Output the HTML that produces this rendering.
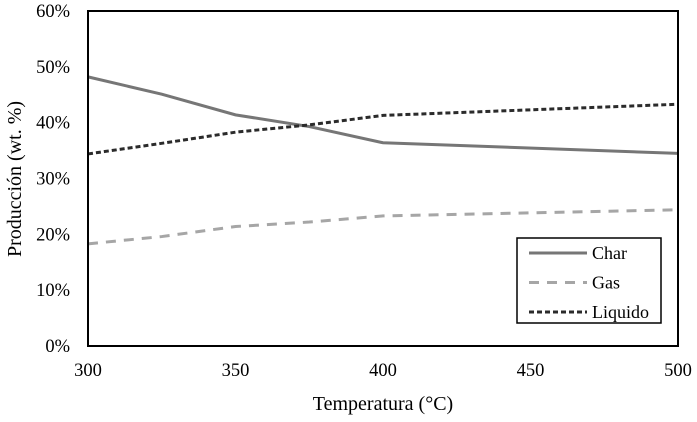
<!DOCTYPE html>
<html><head><meta charset="utf-8"><style>
body{margin:0;background:#fff;}
svg text{font-family:"Liberation Serif",serif;fill:#000;}
</style></head><body>
<svg id="chart" width="697" height="417" xmlns="http://www.w3.org/2000/svg"></svg>
<script>
const temps=[300,325,350,375,400,500];
const charVals=[48.2,45.1,41.4,39.3,36.4,34.5];
const gasVals=[18.3,19.6,21.4,22.2,23.3,24.4];
const liqVals=[34.4,36.3,38.3,39.6,41.3,43.3];
const xTicks=[300,350,400,450,500];
const yTicks=[0,10,20,30,40,50,60];
const L=88,R=678,T=11,B=346;
const xs=v=>L+(v-300)/200*(R-L);
const ys=v=>B-v/60*(B-T);
const svg=document.getElementById('chart');
const NS='http://www.w3.org/2000/svg';
function mk(tag,attrs,parent){const e=document.createElementNS(NS,tag);for(const k in attrs)e.setAttribute(k,attrs[k]);(parent||svg).appendChild(e);return e;}
yTicks.forEach(t=>{const e=mk('text',{x:70,y:ys(t)+6,'text-anchor':'end','font-size':18.5});e.textContent=t+'%';

});
xTicks.forEach(t=>{const e=mk('text',{x:xs(t),y:376,'text-anchor':'middle','font-size':18.5});e.textContent=t;

});
const series=[{v:charVals,c:'#767676',d:'',w:3,n:'char-line'},{v:gasVals,c:'#a6a6a6',d:'10,8',w:3,n:'gas-line'},{v:liqVals,c:'#2b2b2b',d:'5,3',w:3,n:'liquido-line'}];
series.forEach(s=>{const p=mk('polyline',{points:temps.map((t,i)=>xs(t)+','+ys(s.v[i])).join(' '),fill:'none',stroke:s.c,'stroke-width':s.w,'stroke-dasharray':s.d});

});
const f=mk('rect',{x:L,y:T,width:R-L,height:B-T,fill:'none',stroke:'#000','stroke-width':2});


const lg=mk('g',{});


mk('rect',{x:517,y:238,width:144,height:85,fill:'#fff',stroke:'#000','stroke-width':1.5},lg);
const names=['Char','Gas','Liquido'];
series.forEach((s,i)=>{const y=253+i*29.5;
mk('line',{x1:529,y1:y,x2:587,y2:y,stroke:s.c,'stroke-width':3,'stroke-dasharray':s.d},lg);
const t=mk('text',{x:592,y:y+6,'font-size':18},lg);t.textContent=names[i];

});
const xt=mk('text',{x:383,y:410,'text-anchor':'middle','font-size':20});xt.textContent='Temperatura (°C)';


const yt=mk('text',{x:0,y:0,'text-anchor':'middle','font-size':20,transform:'translate(21,179) rotate(-90)'});yt.textContent='Producción (wt. %)';


</script>
</body></html>
